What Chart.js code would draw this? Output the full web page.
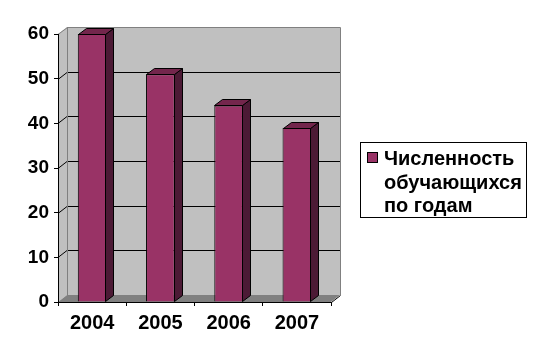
<!DOCTYPE html>
<html>
<head>
<meta charset="utf-8">
<script src="https://cdn.jsdelivr.net/npm/chart.js@4/dist/chart.umd.min.js"></script>
<style>
html,body{margin:0;padding:0;background:#fff;}
#wrap{width:540px;height:360px;position:relative;}
</style>
</head>
<body>
<div id="wrap"><canvas id="c" width="540" height="360"></canvas></div>
<script>
const categories = ['2004', '2005', '2006', '2007'];
const values = [60, 51, 44, 39];
const yTicks = [0, 10, 20, 30, 40, 50, 60];
const seriesLines = ['Численность', 'обучающихся', 'по годам'];

const FONT = "'Liberation Sans', Arial, sans-serif";
const WALL_DX = 9, WALL_DY = -7;
const BAR_DX = 8, BAR_DY = -6;

const threeD = {
  id: 'threeD',
  beforeDraw(chart) {
    const ctx = chart.ctx;
    const {left, right, top, bottom} = chart.chartArea;
    const y = chart.scales.y;
    ctx.save();
    ctx.fillStyle = '#c0c0c0';
    ctx.fillRect(left + WALL_DX, top + WALL_DY, right - left, bottom - top);
    ctx.beginPath();
    ctx.moveTo(left, top);
    ctx.lineTo(left + WALL_DX, top + WALL_DY);
    ctx.lineTo(left + WALL_DX, bottom + WALL_DY);
    ctx.lineTo(left, bottom);
    ctx.closePath();
    ctx.fill();
    ctx.fillStyle = '#808080';
    ctx.beginPath();
    ctx.moveTo(left, bottom);
    ctx.lineTo(right, bottom);
    ctx.lineTo(right + WALL_DX, bottom + WALL_DY);
    ctx.lineTo(left + WALL_DX, bottom + WALL_DY);
    ctx.closePath();
    ctx.fill();
    ctx.strokeStyle = '#000';
    ctx.lineWidth = 1;
    yTicks.forEach(v => {
      if (v <= y.min || v >= y.max) return;
      const py = Math.round(y.getPixelForValue(v)) + 0.5;
      ctx.beginPath();
      ctx.moveTo(left, py);
      ctx.lineTo(left + WALL_DX, py + WALL_DY);
      ctx.lineTo(right + WALL_DX, py + WALL_DY);
      ctx.stroke();
    });
    ctx.strokeStyle = '#808080';
    ctx.beginPath();
    ctx.moveTo(left, top + 0.5);
    ctx.lineTo(left + WALL_DX + 0.5, top + WALL_DY + 0.5);
    ctx.lineTo(right + WALL_DX + 0.5, top + WALL_DY + 0.5);
    ctx.lineTo(right + WALL_DX + 0.5, bottom + WALL_DY);
    ctx.stroke();
    ctx.beginPath();
    ctx.moveTo(left + WALL_DX + 0.5, top + WALL_DY);
    ctx.lineTo(left + WALL_DX + 0.5, bottom + WALL_DY);
    ctx.stroke();
    ctx.strokeStyle = '#000';
    ctx.beginPath();
    ctx.moveTo(right + 0.5, bottom + 0.5);
    ctx.lineTo(right + WALL_DX + 0.5, bottom + WALL_DY + 0.5);
    ctx.stroke();
    ctx.restore();
  },
  afterDatasetsDraw(chart) {
    const ctx = chart.ctx;
    const meta = chart.getDatasetMeta(0);
    ctx.save();
    ctx.strokeStyle = '#000';
    ctx.lineWidth = 1;
    ctx.lineJoin = 'miter';
    meta.data.forEach(bar => {
      const {x, y, base, width} = bar.getProps(['x', 'y', 'base', 'width'], true);
      const l = Math.round(x - width / 2) + 0.5;
      const r = Math.round(x + width / 2) - 0.5;
      const t = Math.round(y) + 0.5;
      const b = Math.round(base) - 0.5;
      ctx.fillStyle = '#4c1a35';
      ctx.beginPath();
      ctx.moveTo(r, t);
      ctx.lineTo(r + BAR_DX, t + BAR_DY);
      ctx.lineTo(r + BAR_DX, b + BAR_DY);
      ctx.lineTo(r, b);
      ctx.closePath();
      ctx.fill();
      ctx.stroke();
      ctx.fillStyle = '#73264c';
      ctx.beginPath();
      ctx.moveTo(l, t);
      ctx.lineTo(l + BAR_DX, t + BAR_DY);
      ctx.lineTo(r + BAR_DX, t + BAR_DY);
      ctx.lineTo(r, t);
      ctx.closePath();
      ctx.fill();
      ctx.stroke();
    });
    ctx.restore();
  },
  afterDraw(chart) {
    const ctx = chart.ctx;
    const boxL = 360.5, boxT = 142.5, boxW = 166, boxH = 75;
    ctx.save();
    ctx.fillStyle = '#fff';
    ctx.fillRect(boxL, boxT, boxW, boxH);
    ctx.strokeStyle = '#000';
    ctx.lineWidth = 1;
    ctx.strokeRect(boxL, boxT, boxW, boxH);
    ctx.fillStyle = chart.data.datasets[0].backgroundColor;
    ctx.fillRect(367.5, 152.5, 10, 10);
    ctx.strokeRect(367.5, 152.5, 10, 10);
    ctx.fillStyle = '#000';
    ctx.font = 'bold 20px ' + FONT;
    ctx.textBaseline = 'alphabetic';
    ctx.textAlign = 'left';
    seriesLines.forEach((line, i) => {
      ctx.fillText(line, 384, 165 + i * 23.5);
    });
    ctx.restore();
  }
};

new Chart(document.getElementById('c'), {
  type: 'bar',
  data: {
    labels: categories,
    datasets: [{
      label: seriesLines.join(' '),
      data: values,
      backgroundColor: '#993366',
      borderColor: '#000',
      borderWidth: 1,
      categoryPercentage: 1,
      barPercentage: 0.42
    }]
  },
  options: {
    responsive: false,
    animation: false,
    events: [],
    layout: {padding: {left: 0, right: 209, top: 34, bottom: 0}},
    plugins: {legend: {display: false}, tooltip: {enabled: false}},
    scales: {
      x: {
        offset: true,
        grid: {offset: true, drawOnChartArea: false, drawTicks: true, tickLength: 4, color: '#000'},
        border: {display: true, color: '#000'},
        ticks: {color: '#000', font: {family: FONT, size: 20, weight: 'bold'}, padding: 5, maxRotation: 0},
        afterFit(scale) { scale.height = 58; }
      },
      y: {
        min: 0, max: 60,
        afterBuildTicks(scale) { scale.ticks = yTicks.map(v => ({value: v})); },
        grid: {drawOnChartArea: false, drawTicks: true, tickLength: 4, color: '#000'},
        border: {display: true, color: '#000'},
        ticks: {color: '#000', font: {family: FONT, size: 19, weight: 'bold'}, padding: 5},
        afterFit(scale) { scale.width = 58; }
      }
    }
  },
  plugins: [threeD]
});
</script>
</body>
</html>
